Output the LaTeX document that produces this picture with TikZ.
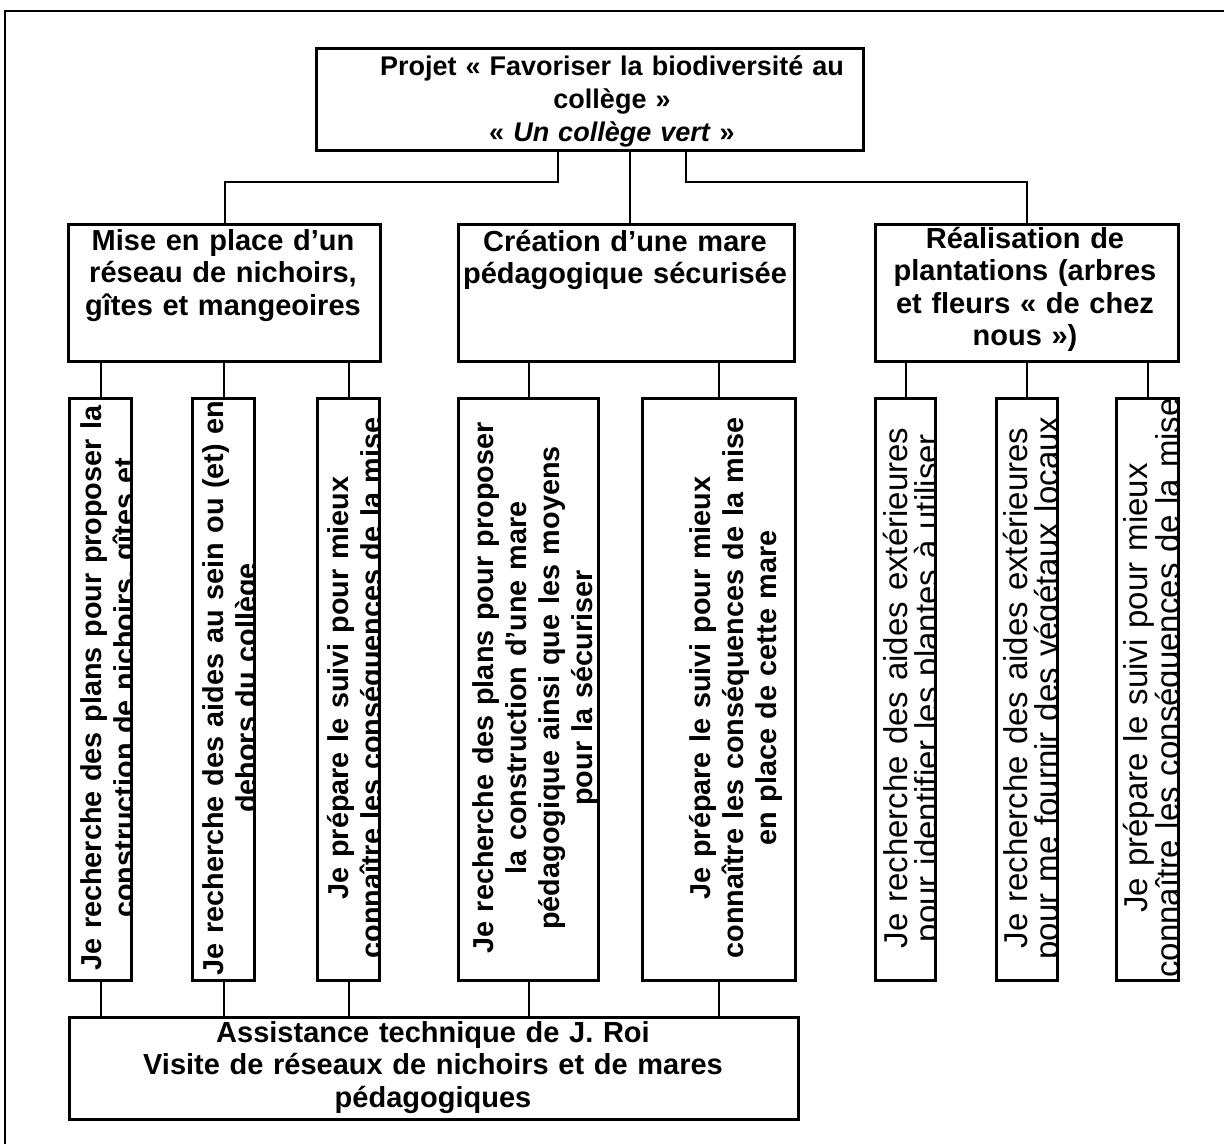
\documentclass[tikz,border=0pt]{standalone}
\usepackage{fontspec}
\setmainfont{Liberation Sans}
\begin{document}
\begin{tikzpicture}[x=1pt,y=-1pt,
  box/.style={draw, line width=3pt, inner sep=0pt, anchor=north west, rectangle},
  link/.style={line width=2pt},
  frame/.style={line width=2.5pt},
  htxt/.style={inner sep=0pt, anchor=base, align=center, text width=#1,
    font=\bfseries\fontsize{29pt}{32.5pt}\selectfont},
  vtxtb/.style={inner sep=0pt, anchor=base, rotate=90, align=center, text width=640pt,
    font=\bfseries\fontsize{28.8pt}{33pt}\selectfont},
  vtxtr/.style={inner sep=0pt, anchor=base, rotate=90, align=center, text width=640pt,
    font=\fontsize{33pt}{31pt}\selectfont},
]
\useasboundingbox (0,0) rectangle (1224,1144);
\fill[white] (0,0) rectangle (1224,1144);
% outer frame
\draw[frame] (5,1144) -- (5,11) -- (1224,11);

% boxes
\node[box, minimum width=547pt, minimum height=102pt] (top) at (315,47) {};
\node[box, minimum width=312pt, minimum height=137pt] (mise) at (67,223) {};
\node[box, minimum width=336pt, minimum height=137pt] (crea) at (457,223) {};
\node[box, minimum width=303pt, minimum height=137pt] (real) at (874,223) {};
\node[box, minimum width=729pt, minimum height=102pt] (assist) at (68,1016) {};

\node[box, minimum width=62pt, minimum height=582pt] (b1) at (68,397) {};
\node[box, minimum width=62pt, minimum height=582pt] (b2) at (191,397) {};
\node[box, minimum width=62pt, minimum height=582pt] (b3) at (316,397) {};
\node[box, minimum width=140pt, minimum height=582pt] (b4) at (457,397) {};
\node[box, minimum width=153pt, minimum height=582pt] (b5) at (641,397) {};
\node[box, minimum width=60pt, minimum height=582pt] (b6) at (874,397) {};
\node[box, minimum width=61pt, minimum height=582pt] (b7) at (995,397) {};
\node[box, minimum width=62pt, minimum height=582pt] (b8) at (1115,397) {};

% horizontal texts
\node[htxt=540pt, font=\bfseries\fontsize{27pt}{33pt}\selectfont] (ttop) at (612,75)
  {Projet « Favoriser la biodiversité au\\collège »\\« \textit{Un collège vert} »};
\node[htxt=300pt] (tmise) at (223,250) {Mise en place d’un\\réseau de nichoirs,\\gîtes et mangeoires};
\node[htxt=330pt] (tcrea) at (625,251) {Création d’une mare\\pédagogique sécurisée};
\node[htxt=300pt] (treal) at (1025,248) {Réalisation de\\plantations (arbres\\et fleurs « de chez\\nous »)};
\node[htxt=720pt] (tassist) at (433,1042) {Assistance technique de J. Roi\\Visite de réseaux de nichoirs et de mares\\pédagogiques};

% vertical texts (clipped by their boxes)
\begin{scope}
\clip ([shift={(1.5pt,1.5pt)}]b1.south west) rectangle ([shift={(-1.5pt,-1.5pt)}]b1.north east);
\node[vtxtb] (t1) at (101,688) {Je recherche des plans pour proposer la\\construction de nichoirs, gîtes et};
\end{scope}
\begin{scope}
\clip ([shift={(1.5pt,1.5pt)}]b2.south west) rectangle ([shift={(-1.5pt,-1.5pt)}]b2.north east);
\node[vtxtb] (t2) at (223,688) {Je recherche des aides au sein ou (et) en\\dehors du collège};
\end{scope}
\begin{scope}
\clip ([shift={(1.5pt,1.5pt)}]b3.south west) rectangle ([shift={(-1.5pt,-1.5pt)}]b3.north east);
\node[vtxtb] (t3) at (348,688) {Je prépare le suivi pour mieux\\connaître les conséquences de la mise};
\end{scope}
\begin{scope}
\clip ([shift={(1.5pt,1.5pt)}]b4.south west) rectangle ([shift={(-1.5pt,-1.5pt)}]b4.north east);
\node[vtxtb] (t4) at (493,688) {Je recherche des plans pour proposer\\la construction d’une mare\\pédagogique ainsi que les moyens\\pour la sécuriser};
\end{scope}
\begin{scope}
\clip ([shift={(1.5pt,1.5pt)}]b5.south west) rectangle ([shift={(-1.5pt,-1.5pt)}]b5.north east);
\node[vtxtb] (t5) at (710,688) {Je prépare le suivi pour mieux\\connaître les conséquences de la mise\\en place de cette mare};
\end{scope}
\begin{scope}
\clip ([shift={(1.5pt,1.5pt)}]b6.south west) rectangle ([shift={(-1.5pt,-1.5pt)}]b6.north east);
\node[vtxtr] (t6) at (907,688) {Je recherche des aides extérieures\\pour identifier les plantes à utiliser};
\end{scope}
\begin{scope}
\clip ([shift={(1.5pt,1.5pt)}]b7.south west) rectangle ([shift={(-1.5pt,-1.5pt)}]b7.north east);
\node[vtxtr] (t7) at (1027,688) {Je recherche des aides extérieures\\pour me fournir des végétaux locaux};
\end{scope}
\begin{scope}
\clip ([shift={(1.5pt,1.5pt)}]b8.south west) rectangle ([shift={(-1.5pt,-1.5pt)}]b8.north east);
\node[vtxtr] (t8) at (1147,688) {Je prépare le suivi pour mieux\\connaître les conséquences de la mise};
\end{scope}

% connectors
\coordinate (jl) at (558,182);
\coordinate (jr) at (686,182);
\coordinate (jc) at (630,0);
\draw[link] (jl |- top.south) -- (jl) -| (mise.north);
\draw[link] (jr |- top.south) -- (jr) -| (real.north);
\draw[link] (jc |- top.south) -- (jc |- crea.north);
\foreach \b in {b1,b2,b3} \draw[link] (\b.north) -- (\b.north |- mise.south);
\foreach \b in {b4,b5} \draw[link] (\b.north) -- (\b.north |- crea.south);
\foreach \b in {b6,b7,b8} \draw[link] (\b.north) -- (\b.north |- real.south);
\foreach \b in {b1,b2,b3,b4,b5} \draw[link] (\b.south) -- (\b.south |- assist.north);
\end{tikzpicture}
\end{document}
